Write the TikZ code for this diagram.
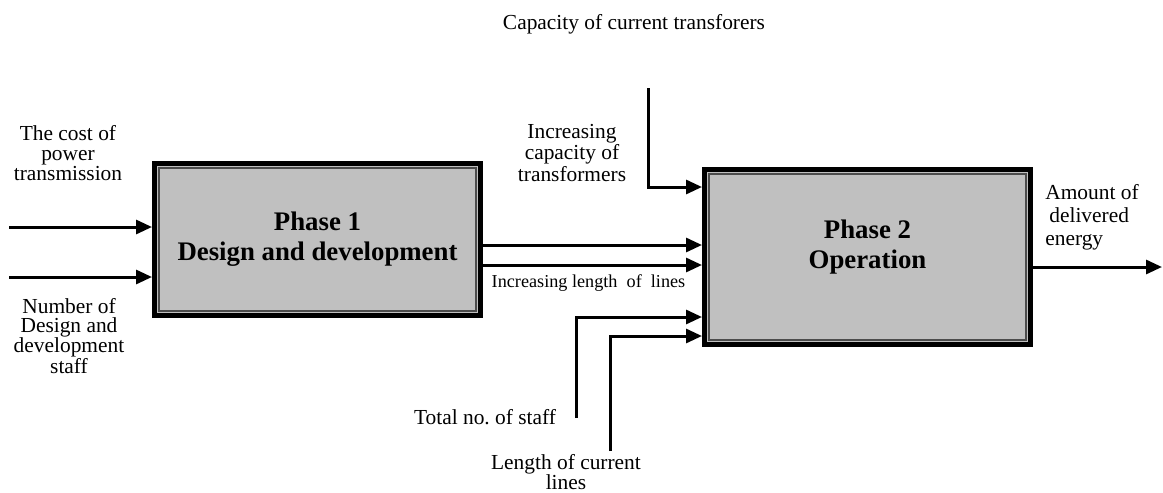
\documentclass[tikz,border=0pt]{standalone}
\usepackage{fontspec}
\setmainfont{Liberation Serif}
\usetikzlibrary{arrows.meta}
\definecolor{boxgray}{HTML}{C0C0C0}
\tikzset{
  phase/.style={draw=black, line width=2.5pt, fill=boxgray, minimum width=163pt, inner sep=0pt},
  innerline/.style={draw=black!70, line width=0.6pt},
  phasetext/.style={font=\bfseries\fontsize{13.4}{15}\selectfont, align=center},
  flow/.style={line width=1.5pt, -{Triangle[length=8pt,width=7pt]}},
  lbl/.style={font=\fontsize{10.7}{9.8}\selectfont, align=center, inner sep=0pt},
}
\begin{document}
\begin{tikzpicture}[x=0.5pt,y=-0.5pt]
      \useasboundingbox (0,0) rectangle (1163,493);

      % the two phases
      \node[phase, minimum height=76pt] (p1) at (317.5,239.5) {};
        \draw[innerline] ([shift={(3.5pt,-3.5pt)}]p1.north west) rectangle ([shift={(-3.5pt,3.5pt)}]p1.south east);
        \node[phasetext] (t1) at (p1.center) {Phase 1\\Design and development};
      \node[phase, minimum height=87.5pt] (p2) at (867.5,257) {};
        \draw[innerline] ([shift={(3.5pt,-3.5pt)}]p2.north west) rectangle ([shift={(-3.5pt,3.5pt)}]p2.south east);
        \node[phasetext] (t2) at ([yshift=5pt]p2.center) {Phase 2\\Operation};

      % inputs of phase 1
      \coordinate (cost) at (9,227);
      \coordinate (staff) at (9,277);
      \draw[flow] (cost) -- (cost -| p1.west);
      \draw[flow] (staff) -- (staff -| p1.west);
      \node[lbl] (costlbl) at (68,153) {The cost of\\power\\transmission};
      \node[lbl] (stafflbl) at (69,336) {Number of\\Design and\\development\\staff};

      % phase 1 to phase 2
      \coordinate (y1) at (0,245);
      \coordinate (y2) at (0,265);
      \draw[flow] (p1.east |- y1) -- (p2.west |- y1);
      \draw[flow] (p1.east |- y2) -- (p2.west |- y2);
      \node[lbl, font=\fontsize{9.1}{10}\selectfont] (lenlbl) at (588.5,283) {Increasing length~ of~ lines};

      % control from above
      \coordinate (captop) at (648,88);
      \coordinate (yc) at (0,187);
      \draw[flow] (captop) |- (p2.west |- yc);
      \node[lbl] (caplbl) at (634,24) {Capacity of current transforers};
      \node[lbl] (inclbl) at (572,153) {Increasing\\capacity of\\transformers};

      % inputs from below
      \coordinate (totend) at (576,418);
      \coordinate (lenend) at (610,451);
      \coordinate (yt) at (0,317);
      \coordinate (yl) at (0,336);
      \draw[flow] (totend) |- (p2.west |- yt);
      \draw[flow] (lenend) |- (p2.west |- yl);
      \node[lbl] (totlbl) at (485,417) {Total no.\ of staff};
      \node[lbl, font=\fontsize{10.7}{10}\selectfont] (curlbl) at (566,472) {Length of current\\lines};

      % output
      \coordinate (out) at (1162,267);
      \draw[flow] (p2.east |- out) -- (out);
      \node[lbl, align=left, font=\fontsize{10.7}{11.6}\selectfont] (amlbl) at (1092,217) {Amount of\\\hspace{2pt}delivered\\energy};

    \end{tikzpicture}
\end{document}
